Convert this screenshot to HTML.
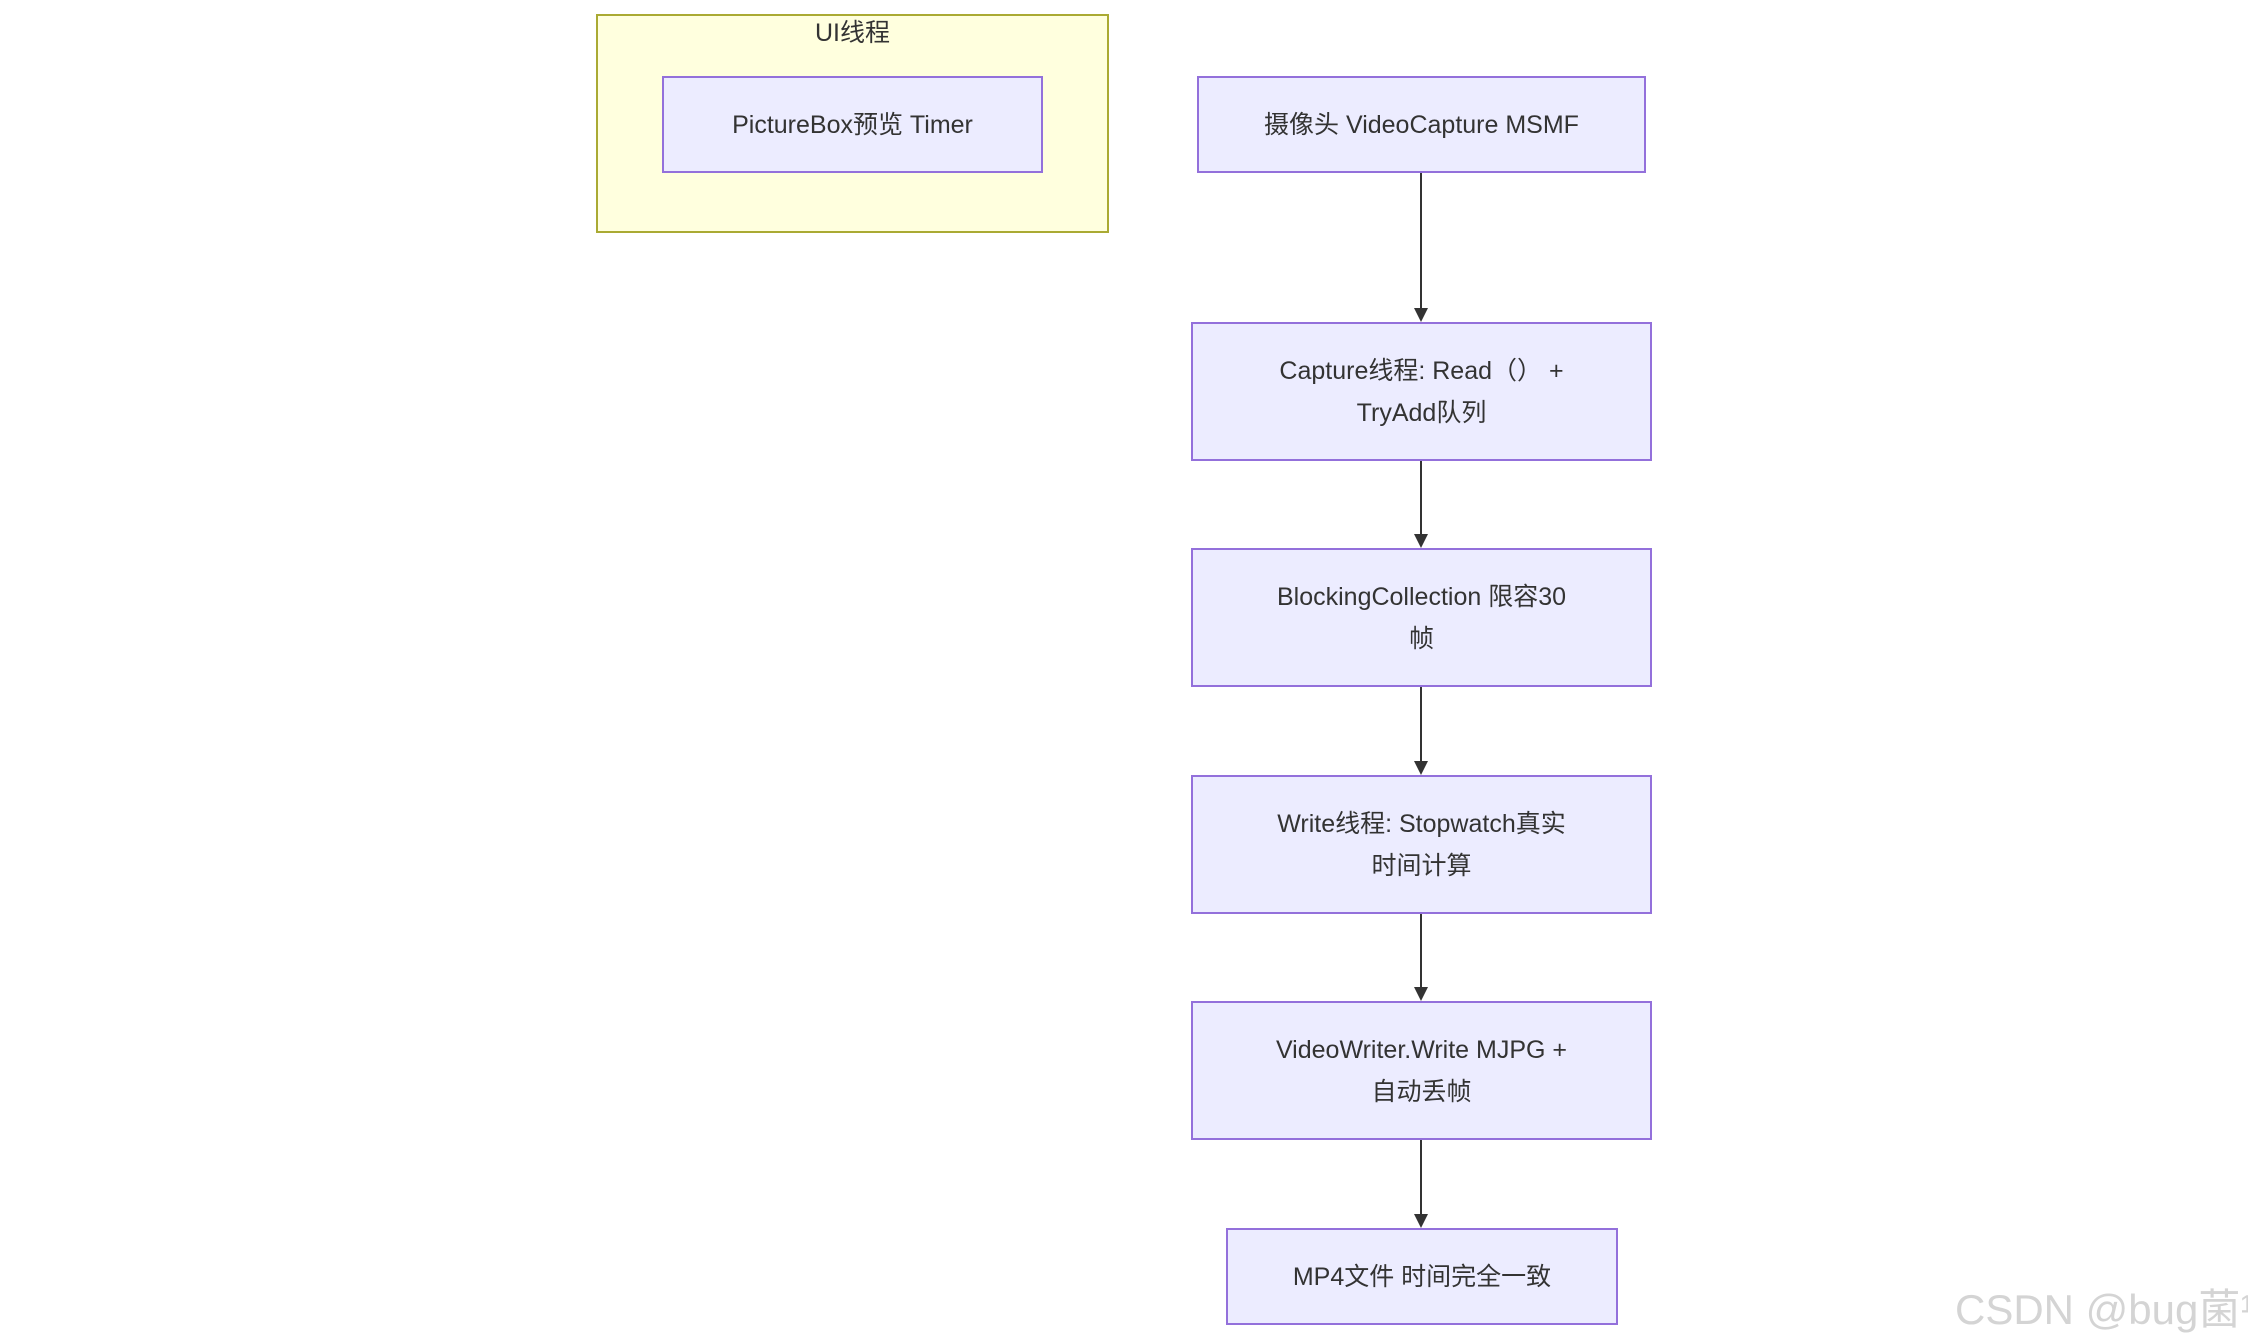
<!DOCTYPE html>
<html><head><meta charset="utf-8"><style>
body{margin:0;width:2248px;height:1338px;background:#fff;position:relative;overflow:hidden;font-family:"Liberation Sans","Noto Sans CJK SC",sans-serif;color:#333;}
.n{position:absolute;box-sizing:border-box;background:#ececff;border:2px solid #9370db;display:flex;align-items:center;justify-content:center;text-align:center;font-size:25px;line-height:42px;}
.v{position:absolute;left:1420px;width:2px;background:#333;}
.a{position:absolute;left:1414px;width:0;height:0;border-left:7px solid transparent;border-right:7px solid transparent;border-top:14px solid #333;}
</style></head><body>
<div style="position:absolute;left:596px;top:14px;width:513px;height:219px;box-sizing:border-box;background:#ffffde;border:2px solid #aaaa33;"></div>
<div style="position:absolute;left:596px;top:14px;width:513px;text-align:center;font-size:25px;line-height:38px;">UI线程</div>
<div class="n" style="left:662px;top:76px;width:381px;height:97px;">PictureBox预览 Timer</div>
<div class="n" style="left:1197px;top:76px;width:449px;height:97px;">摄像头 VideoCapture MSMF</div>
<div class="n" style="left:1191px;top:322px;width:461px;height:139px;">Capture线程: Read（） +<br>TryAdd队列</div>
<div class="n" style="left:1191px;top:548px;width:461px;height:139px;">BlockingCollection 限容30<br>帧</div>
<div class="n" style="left:1191px;top:775px;width:461px;height:139px;">Write线程: Stopwatch真实<br>时间计算</div>
<div class="n" style="left:1191px;top:1001px;width:461px;height:139px;">VideoWriter.Write MJPG +<br>自动丢帧</div>
<div class="n" style="left:1226px;top:1228px;width:392px;height:97px;">MP4文件 时间完全一致</div>
<div class="v" style="top:173px;height:136px;"></div><div class="a" style="top:308px;"></div>
<div class="v" style="top:461px;height:74px;"></div><div class="a" style="top:534px;"></div>
<div class="v" style="top:687px;height:74px;"></div><div class="a" style="top:761px;"></div>
<div class="v" style="top:914px;height:74px;"></div><div class="a" style="top:987px;"></div>
<div class="v" style="top:1140px;height:74px;"></div><div class="a" style="top:1214px;"></div>
<div style="position:absolute;left:1955px;top:1276px;font-size:42px;color:#d4d4d4;white-space:nowrap;">CSDN @bug菌¹</div>
</body></html>
